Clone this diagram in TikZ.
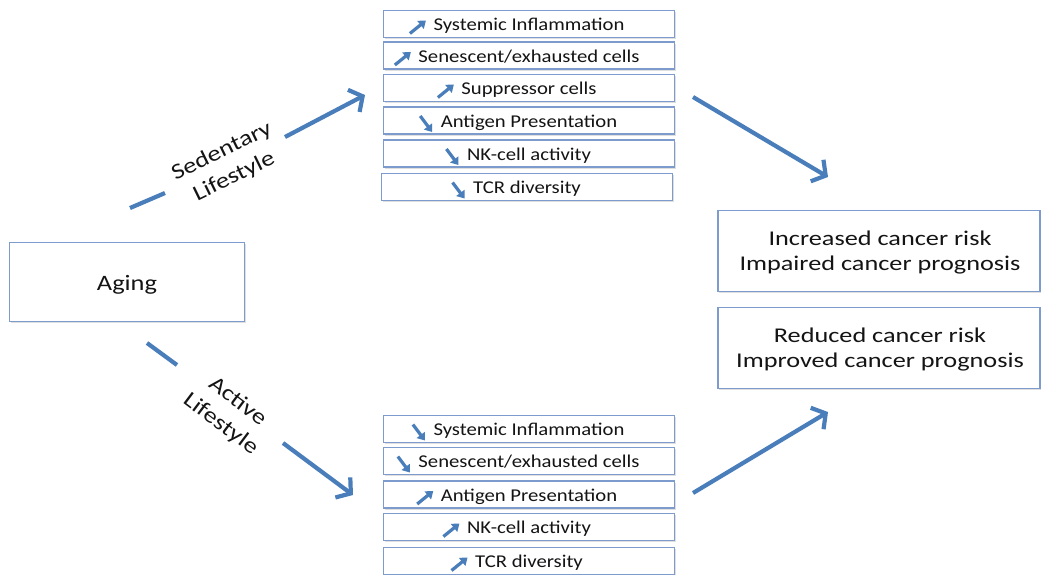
\documentclass[tikz,border=0pt]{standalone}
\usepackage{fontspec}
\setmainfont{Carlito}
\newfontfamily\bfnt[FakeStretch=1.15]{Carlito}
\newfontfamily\rfnt[FakeStretch=1.25]{Carlito}
\newfontfamily\afnt[FakeStretch=1.2]{Carlito}
\usetikzlibrary{arrows.meta,shadows}
\definecolor{arrblue}{RGB}{74,126,187}
\definecolor{boxblue}{RGB}{125,155,205}
\definecolor{txt}{RGB}{20,20,20}
\tikzset{
  smallarr/.style={line width=3.2pt, arrblue, -{Triangle[length=7pt,width=10pt]}},
  bigline/.style={line width=4.2pt, arrblue},
  bigarr/.style={line width=4.2pt, arrblue, -{Straight Barb[length=10pt,width=25pt]}},
  boxbase/.style={draw=boxblue, line width=1.3pt, fill=white, text=txt,
     drop shadow={shadow xshift=1.2pt, shadow yshift=-1.5pt, opacity=0.25}},
  listbox/.style={boxbase, minimum width=291pt, minimum height=27pt, inner sep=0pt,
     text height=20pt, text depth=7pt, font=\bfnt\fontsize{18}{20}\selectfont},
  bigbox/.style={boxbase, minimum width=322pt, minimum height=81pt, inner sep=0pt},
  bigtext/.style={align=center, text=txt, inner sep=0pt, font=\rfnt\fontsize{21}{25}\selectfont},
  lifelbl/.style={align=center, text=txt, inner sep=0pt, font=\afnt\fontsize{22}{28}\selectfont}
}
\newcommand\uparr{\tikz[baseline=0pt]\draw[smallarr] (0pt,-3pt) -- (16pt,10pt);}
\newcommand\dnarr{\tikz[baseline=0pt]\draw[smallarr] (0pt,11pt) -- (12pt,-5pt);}
\newcommand\ua[1]{\llap{\uparr\hspace{6pt}}#1}
\newcommand\da[1]{\llap{\dnarr\hspace{7pt}}#1}
\begin{document}
\begin{tikzpicture}[x=1pt,y=-1pt]
\useasboundingbox (0,0) rectangle (1041,574);
% Aging
\node[boxbase, minimum width=235pt, minimum height=79pt, inner sep=0pt,
  text height=24pt, text depth=8pt,
  font=\afnt\fontsize{22}{26}\selectfont] (aging) at (127,282) {Aging};
% top list
\node[listbox] (s1) at (529,24) {\ua{Systemic Inflammation}};
\node[listbox] (s2) at (529,55.5) {\ua{Senescent/exhausted cells}};
\node[listbox] (s3) at (529,88) {\ua{Suppressor cells}};
\node[listbox] (s4) at (529,120.5) {\da{Antigen Presentation}};
\node[listbox] (s5) at (529,153.5) {\da{NK-cell activity}};
\node[listbox] (s6) at (527,187) {\da{TCR diversity}};
% bottom list
\node[listbox] (a1) at (529,429) {\da{Systemic Inflammation}};
\node[listbox] (a2) at (529,461) {\da{Senescent/exhausted cells}};
\node[listbox] (a3) at (529,494.5) {\ua{Antigen Presentation}};
\node[listbox] (a4) at (529,527) {\ua{NK-cell activity}};
\node[listbox] (a5) at (529,561) {\ua{TCR diversity}};
% outcome boxes
\node[bigbox] (inc) at (879,251) {};
\node[bigtext] (inct) at (880,253) {Increased cancer risk\\Impaired cancer prognosis};
\node[bigbox] (red) at (879,348) {};
\node[bigtext] (redt) at (880,350) {Reduced cancer risk\\Improved cancer prognosis};
% lifestyle labels
\node[lifelbl, rotate=26] (sed) at (228,164) {Sedentary\\Lifestyle};
\node[lifelbl, rotate=-37] (act) at (229,413) {Active\\Lifestyle};
% connectors
\coordinate (sA) at (130,208); \coordinate (sB) at (165,193);
\coordinate (sC) at (285,137); \coordinate (sD) at (365,95);
\coordinate (aA) at (147,343); \coordinate (aB) at (177,365);
\coordinate (aC) at (283,443); \coordinate (aD) at (353,495);
\coordinate (tA) at (693,97);  \coordinate (tB) at (828,177);
\coordinate (bA) at (693,493); \coordinate (bB) at (828,412);
\draw[bigline] (sA) -- (sB);
\draw[bigarr] (sC) -- (sD);
\draw[bigline] (aA) -- (aB);
\draw[bigarr] (aC) -- (aD);
\draw[bigarr] (tA) -- (tB);
\draw[bigarr] (bA) -- (bB);
\end{tikzpicture}
\end{document}
